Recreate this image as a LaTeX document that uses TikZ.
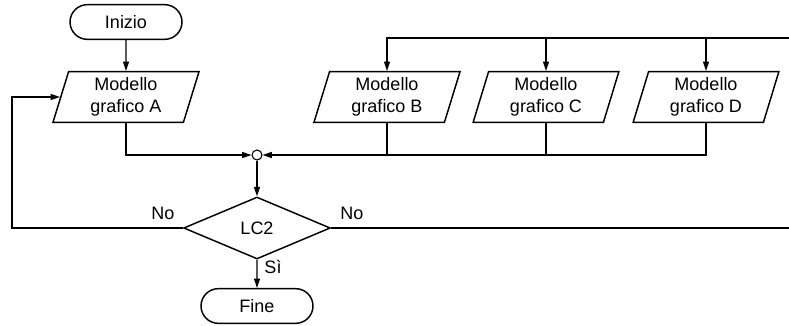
\documentclass[tikz,border=0pt]{standalone}
\usepackage{fontspec}
\setmainfont{Liberation Sans}
\usetikzlibrary{shapes.geometric,shapes.misc,arrows.meta}
\begin{document}
\begin{tikzpicture}
[
	x=0.75pt,y=-0.75pt,
	line width=0.8pt,
	every node/.style={font=\fontsize{13.5}{16.5}\selectfont},
	term/.style={rounded rectangle,draw,line width=1.1pt,minimum width=84pt,minimum height=26pt,inner sep=0pt},
	model/.style={trapezium,trapezium left angle=76,trapezium right angle=104,trapezium stretches=true,draw,line width=1.1pt,minimum width=110pt,minimum height=38pt,align=center,inner sep=0pt},
	test/.style={diamond,draw,line width=1.1pt,minimum width=110pt,minimum height=46.5pt,inner sep=0pt},
	junct/.style={circle,draw,minimum size=7.5pt,inner sep=0pt},
	arr/.style={-{Triangle[length=7pt,width=4.5pt]}}
]
	\useasboundingbox (0,0) rectangle (789,325);

	\node[term] at (126,22) (inizio) {Inizio};
	\node[model] at (126,97) (A) {Modello\\grafico A};
	\node[model] at (387,97) (B) {Modello\\grafico B};
	\node[model] at (546,97) (C) {Modello\\grafico C};
	\node[model] at (706,97) (D) {Modello\\grafico D};
	\node[junct] at (257,155) (j) {};
	\node[test] at (257,228) (lc2) {LC2};
	\node[term] at (257,306) (fine) {Fine};

	\coordinate (sx) at (12,228);
	\coordinate (top) at (789,38);
	\coordinate (dx) at (789,228);

	\draw[arr] (inizio) -- (A);
	\draw[arr] (A.south) |- (j.west);
	\draw[arr] (D.south) |- (j.east);
	\draw (B.south) -- (B.south |- j);
	\draw (C.south) -- (C.south |- j);

	\draw[arr] (top) -| (B.north);
	\draw[arr] (C.north |- top) -- (C.north);
	\draw[arr] (D.north |- top) -- (D.north);

	\draw[arr] (j) -- (lc2);
	\draw[arr] (lc2) -- (fine);
	\draw[arr] (lc2.west) -- (sx) |- (A.west);
	\draw (lc2.east) -- (dx);

	\node at (163,213) (no1) {No};
	\node at (352,213) (no2) {No};
	\node at (273,267) (si) {Sì};

\end{tikzpicture}
\end{document}
